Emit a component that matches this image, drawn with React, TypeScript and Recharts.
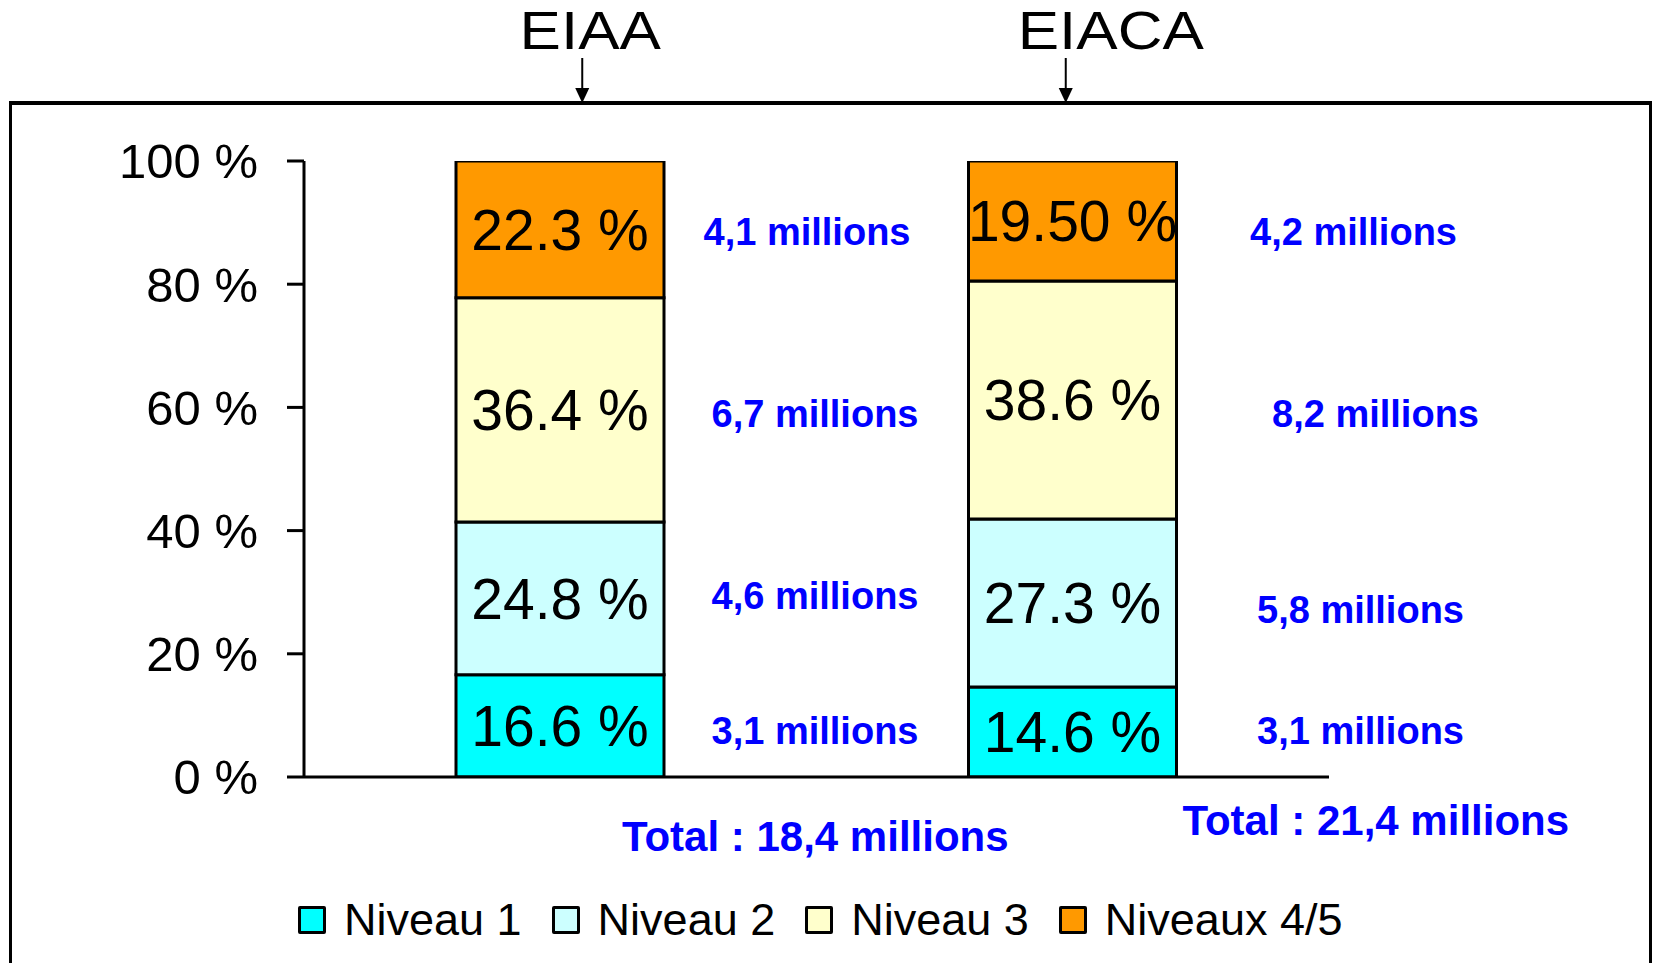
import { BarChart, Bar, XAxis, YAxis, LabelList, Legend } from 'recharts'

const categories = ['EIAA', 'EIACA']
const niveau1 = [16.6, 14.6]
const niveau2 = [24.8, 27.3]
const niveau3 = [36.4, 38.6]
const niveaux45 = [22.3, 19.5]

const niveau1Text = ['16.6 %', '14.6 %']
const niveau2Text = ['24.8 %', '27.3 %']
const niveau3Text = ['36.4 %', '38.6 %']
const niveaux45Text = ['22.3 %', '19.50 %']

const niveau1Millions = ['3,1 millions', '3,1 millions']
const niveau2Millions = ['4,6 millions', '5,8 millions']
const niveau3Millions = ['6,7 millions', '8,2 millions']
const niveaux45Millions = ['4,1 millions', '4,2 millions']

const totals = ['Total : 18,4 millions', 'Total : 21,4 millions']
const yTicks = [0, 20, 40, 60, 80, 100]

const seriesNames = ['Niveau 1', 'Niveau 2', 'Niveau 3', 'Niveaux 4/5']
const seriesColors = ['#00FFFF', '#CCFFFF', '#FFFFCC', '#FF9900']

const data = categories.map((name, i) => ({
  name,
  n1: niveau1[i],
  n2: niveau2[i],
  n3: niveau3[i],
  n45: niveaux45[i],
  n1Text: niveau1Text[i],
  n2Text: niveau2Text[i],
  n3Text: niveau3Text[i],
  n45Text: niveaux45Text[i],
  n1M: niveau1Millions[i],
  n2M: niveau2Millions[i],
  n3M: niveau3Millions[i],
  n45M: niveaux45Millions[i],
}))

const FONT = '"Liberation Sans", Arial, sans-serif'
const BLUE = '#0000FF'

// small layout nudges for the annotations, per series then per category
const millionsDx = [[151, 184], [151, 184], [151, 199], [143, 177]]
const millionsDy = [[5, -1], [-2, 7], [4, 14], [3, 11]]
const totalDx = [255, 303]
const totalDy = [59, 43]
const titleDx = [30, 38]
const arrowDx = [22, -7]

function makeMillionsLabel(s: number) {
  return function MillionsLabel(props: any) {
    const vb = props.viewBox || props
    const idx = props.index ?? (vb.x < 800 ? 0 : 1)
    const x = vb.x + vb.width + millionsDx[s][idx]
    const y = vb.y + vb.height / 2 + millionsDy[s][idx]
    return (
      <text x={x} y={y} textAnchor="middle" dominantBaseline="central" fill={BLUE}
        fontFamily={FONT} fontWeight="bold" fontSize={38}>
        {props.value}
      </text>
    )
  }
}

function CategoryTick(props: any) {
  const { x, payload } = props
  const i = payload.index ?? categories.indexOf(payload.value)
  const ax = x + arrowDx[i]
  return (
    <g>
      <text x={x + totalDx[i]} y={777 + totalDy[i]} textAnchor="middle" dominantBaseline="central"
        fill={BLUE} fontFamily={FONT} fontWeight="bold" fontSize={42}>
        {totals[i]}
      </text>
      <text x={0} y={0} transform={`translate(${x + titleDx[i]},49) scale(1.17,1)`} textAnchor="middle"
        fill="#000" fontFamily={FONT} fontSize={53}>
        {payload.value}
      </text>
      <line x1={ax} y1={58} x2={ax} y2={90} stroke="#000" strokeWidth={2} />
      <polygon points={`${ax - 7},${88} ${ax + 7},${88} ${ax},${103}`} fill="#000" />
    </g>
  )
}

function LegendBox() {
  return (
    <div style={{ display: 'flex', alignItems: 'center', height: 50, fontFamily: FONT, fontSize: 45, color: '#000' }}>
      {seriesNames.map((n, i) => (
        <div key={n} style={{ display: 'flex', alignItems: 'center', marginRight: 30 }}>
          <span style={{
            display: 'inline-block', width: 22, height: 22, background: seriesColors[i],
            border: '3px solid #000', borderRadius: 2, marginRight: 18,
          }} />
          <span style={{ whiteSpace: 'nowrap', lineHeight: '50px' }}>{n}</span>
        </div>
      ))}
    </div>
  )
}

export default function App() {
  const keys = ['n1', 'n2', 'n3', 'n45']
  return (
    <div style={{ position: 'absolute', left: 0, top: 0, width: 1653, height: 963, background: '#fff' }}>
      <div style={{
        position: 'absolute', left: 9, top: 101, width: 1643, height: 900,
        border: '3px solid #000', borderTopWidth: 4, boxSizing: 'border-box',
      }} />
      <BarChart width={1653} height={963} data={data}
        margin={{ top: 161, right: 324, bottom: 0, left: 0 }}
        style={{ position: 'absolute', left: 0, top: 0 }}>
        <XAxis dataKey="name" height={136} tickSize={0} tickMargin={0}
          axisLine={{ stroke: '#000', strokeWidth: 3 }} tickLine={false}
          tick={<CategoryTick />} interval={0} />
        <YAxis width={304} domain={[0, 100]} allowDataOverflow ticks={yTicks}
          tickFormatter={(v: number) => `${v} %`}
          tick={{ fill: '#000', fontSize: 49, fontFamily: FONT }}
          tickSize={17} tickMargin={29}
          axisLine={{ stroke: '#000', strokeWidth: 3 }}
          tickLine={{ stroke: '#000', strokeWidth: 3 }} />
        <Legend content={<LegendBox />} wrapperStyle={{ left: 298, bottom: 18, width: 1100 }} />
        {keys.map((k, i) => {
          const Millions = makeMillionsLabel(i)
          return (
            <Bar key={k} dataKey={k} name={seriesNames[i]} stackId="a" fill={seriesColors[i]}
              stroke="#000" strokeWidth={3} barSize={208} isAnimationActive={false}>
              <LabelList dataKey={`${k}Text`} position="center" fill="#000" fontSize={57} fontFamily={FONT} />
              <LabelList dataKey={`${k}M`} content={<Millions />} />
            </Bar>
          )
        })}
      </BarChart>
    </div>
  )
}
